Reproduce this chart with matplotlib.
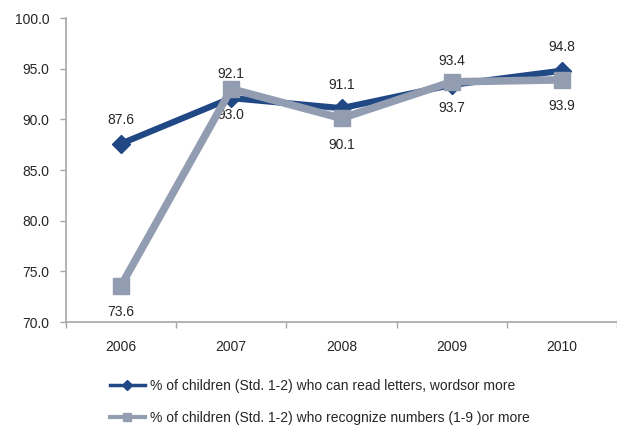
import matplotlib
matplotlib.use("Agg")
import matplotlib.pyplot as plt
import numpy as np

years = ["2006", "2007", "2008", "2009", "2010"]
read_letters = [87.6, 92.1, 91.1, 93.4, 94.8]
recognize_numbers = [73.6, 93.0, 90.1, 93.7, 93.9]
y_ticks = [70.0, 75.0, 80.0, 85.0, 90.0, 95.0, 100.0]

label_read = "% of children (Std. 1-2) who can read letters, wordsor more"
label_num = "% of children (Std. 1-2) who recognize numbers (1-9 )or more"

blue = "#1F4884"
grey = "#939DB2"
axis_grey = "#A6A6A6"
text_col = "#262626"
fs = 10

plt.rcParams["font.family"] = ["Liberation Sans", "DejaVu Sans"]

fig = plt.figure(figsize=(6.17, 4.25), dpi=100)
ax = fig.add_axes([66 / 617, 1 - 322 / 425, 1 - 66 / 617, (322 - 18) / 425])

x = np.arange(len(years))

ax.plot(x, read_letters, color=blue, lw=4.5, marker="D", ms=9,
        mfc=blue, mec=blue, zorder=3)
ax.plot(x, recognize_numbers, color=grey, lw=5.5, marker="s", ms=12,
        mfc=grey, mec=grey, zorder=4)

for xi, v in zip(x, read_letters):
    ax.annotate(f"{v:.1f}", (xi, v), xytext=(0, 12), textcoords="offset points",
                ha="center", va="bottom", fontsize=fs, color=text_col)
for xi, v in zip(x, recognize_numbers):
    ax.annotate(f"{v:.1f}", (xi, v), xytext=(0, -14), textcoords="offset points",
                ha="center", va="top", fontsize=fs, color=text_col)

ax.set_xlim(-0.5, len(years) - 0.5)
ax.set_ylim(70, 100)
ax.set_yticks(y_ticks)
ax.set_yticklabels([f"{t:.1f}" for t in y_ticks], fontsize=fs, color=text_col)
ax.set_xticks(x)
ax.set_xticklabels(years, fontsize=fs, color=text_col)
ax.set_xticks(np.arange(-0.5, len(years)), minor=True)
ax.tick_params(axis="x", which="major", length=0, pad=13)
ax.tick_params(axis="x", which="minor", length=4, color=axis_grey, width=1)
ax.tick_params(axis="y", length=4, color=axis_grey, width=1, pad=8)

for s in ["top", "right"]:
    ax.spines[s].set_visible(False)
for s in ["left", "bottom"]:
    ax.spines[s].set_color(axis_grey)
    ax.spines[s].set_linewidth(1.2)

leg_h1 = plt.Line2D([], [], color=blue, lw=2.5, marker="D", ms=5)
leg_h2 = plt.Line2D([], [], color=grey, lw=3, marker="s", ms=6)
fig.legend([leg_h1, leg_h2], [label_read, label_num], loc="upper left",
           bbox_to_anchor=(110 / 617, 1 - 379 / 425), frameon=False,
           fontsize=fs, handlelength=2.5, handletextpad=0.4, labelspacing=1.3,
           labelcolor=text_col, borderaxespad=0, borderpad=0)

fig.savefig("out.png", dpi=100)
